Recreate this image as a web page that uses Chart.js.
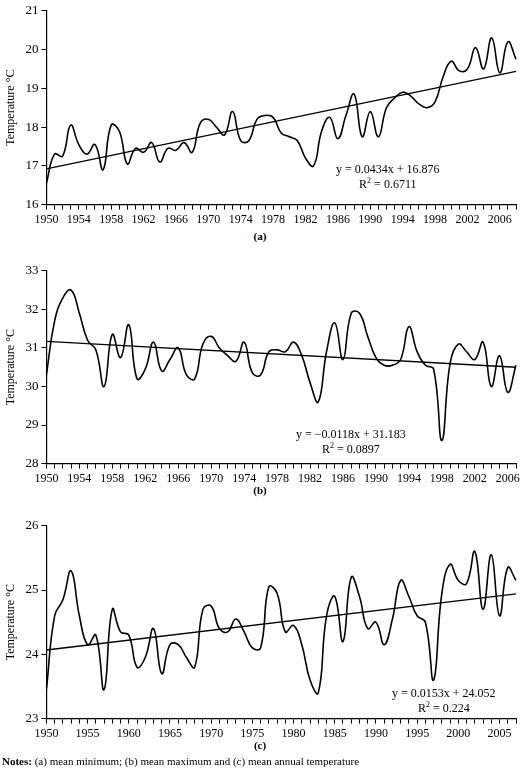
<!DOCTYPE html>
<html>
<head>
<meta charset="utf-8">
<script src="https://cdn.jsdelivr.net/npm/chart.js@4"></script>
<style>
  body { margin: 0; background: #fff; font-family: "Liberation Serif", serif; }
  .panel { position: absolute; left: 0; width: 520px; }
  .eq { position: absolute; font-size: 12px; text-align: center; line-height: 15px; color: #000; }
  .eq sup { font-size: 8px; line-height: 0; vertical-align: 5px; }
  .lab { position: absolute; width: 520px; text-align: center; font-weight: bold; font-size: 11px; }
  #notes { position: absolute; left: 2px; top: 755px; font-size: 11px; }
</style>
</head>
<body>
<div class="panel" style="top:0;height:230px"><canvas id="ca"></canvas></div>
<div class="panel" style="top:260px;height:229px"><canvas id="cb"></canvas></div>
<div class="panel" style="top:515px;height:229px"><canvas id="cc"></canvas></div>
<div class="eq" style="left:336px;top:162px">y = 0.0434x + 16.876<br>R<sup>2</sup> = 0.6711</div>
<div class="eq" style="left:296px;top:427px">y = &minus;0.0118x + 31.183<br>R<sup>2</sup> = 0.0897</div>
<div class="eq" style="left:392px;top:686px">y = 0.0153x + 24.052<br>R<sup>2</sup> = 0.224</div>
<div class="lab" style="top:230px">(a)</div>
<div class="lab" style="top:484px">(b)</div>
<div class="lab" style="top:739px">(c)</div>
<div id="notes"><b>Notes:</b> (a) mean minimum; (b) mean maximum and (c) mean annual temperature</div>
<script>
const yearsA = [];
for (let y = 1950; y <= 2008; y++) yearsA.push(String(y));
const yearsBC = yearsA.slice(0, 58);

const minTemp = [16.55, 17.3, 17.25, 18.05, 17.55, 17.3, 17.55, 16.9, 18.05, 17.9,
  17.05, 17.45, 17.35, 17.6, 17.1, 17.45, 17.4, 17.6, 17.35, 18.1,
  18.2, 18.0, 17.8, 18.4, 17.65, 17.65, 18.2, 18.3, 18.25, 17.85,
  17.75, 17.65, 17.2, 17.0, 17.9, 18.25, 17.7, 18.3, 18.85, 17.75,
  18.4, 17.75, 18.5, 18.75, 18.9, 18.8, 18.6, 18.5, 18.65, 19.3,
  19.7, 19.45, 19.5, 20.05, 19.5, 20.3, 19.4, 20.2, 19.75];
const maxTemp = [30.3, 31.7, 32.3, 32.5, 31.9, 31.2, 30.95, 30.0, 31.35, 30.75,
  31.6, 30.2, 30.45, 31.15, 30.4, 30.7, 31.0, 30.3, 30.2, 31.1,
  31.3, 31.0, 30.8, 30.65, 31.15, 30.35, 30.3, 30.9, 30.95, 30.9,
  31.15, 30.8, 30.1, 29.6, 30.9, 31.65, 30.7, 31.9, 31.9, 31.3,
  30.75, 30.55, 30.55, 30.7, 31.55, 30.9, 30.55, 30.45, 28.6, 30.6,
  31.1, 30.9, 30.7, 31.15, 30.0, 30.8, 29.85, 30.55];
const meanTemp = [23.45, 24.6, 24.85, 25.3, 24.6, 24.15, 24.3, 23.45, 24.7, 24.35,
  24.3, 23.8, 23.95, 24.4, 23.7, 24.15, 24.15, 23.95, 23.8, 24.7,
  24.75, 24.4, 24.35, 24.55, 24.35, 24.1, 24.1, 25.05, 24.95, 24.35,
  24.45, 24.15, 23.6, 23.4, 24.6, 24.9, 24.2, 25.2, 24.9, 24.4,
  24.5, 24.15, 24.55, 25.15, 24.9, 24.6, 24.5, 23.6, 24.95, 25.4,
  25.15, 25.1, 25.6, 24.7, 25.55, 24.6, 25.35, 25.15];

// trend line coefficients as printed on the chart (x = 1, 2, ...)
const trendA = [0.0434, 16.876];
const trendB = [-0.0118, 31.183];
const trendC = [0.0153, 24.052];

function makeChart(id, labels, values, trend, yMin, yMax, step) {
  const n = labels.length;
  const trendPts = [
    { x: labels[0], y: trend[0] * 1 + trend[1] },
    { x: labels[n - 1], y: trend[0] * n + trend[1] }
  ];
  new Chart(document.getElementById(id), {
    type: "line",
    data: {
      labels: labels,
      datasets: [
        { data: values, borderColor: "#000", borderWidth: 1.6, pointRadius: 0, tension: 0.45 },
        { data: trendPts, borderColor: "#000", borderWidth: 1.3, pointRadius: 0 }
      ]
    },
    options: {
      responsive: true,
      maintainAspectRatio: false,
      animation: false,
      layout: { padding: { top: 0, right: 4 } },
      plugins: { legend: { display: false }, tooltip: { enabled: false } },
      scales: {
        x: {
          offset: false,
          grid: { display: true, drawOnChartArea: false, color: "#000", lineWidth: 1, tickLength: 5 },
          border: { color: "#000", width: 1.2 },
          ticks: {
            autoSkip: false, maxRotation: 0, color: "#000",
            font: { family: "Liberation Serif", size: 12 },
            callback: (v, i) => ((i % step) === 0 ? labels[i] : "")
          }
        },
        y: {
          min: yMin, max: yMax,
          grid: { display: true, drawOnChartArea: false, color: "#000", tickLength: 5 },
          border: { color: "#000", width: 1.2 },
          ticks: { stepSize: 1, color: "#000", font: { family: "Liberation Serif", size: 13 } },
          title: { display: true, text: "Temperature °C", color: "#000", font: { family: "Liberation Serif", size: 12 } }
        }
      }
    }
  });
}

makeChart("ca", yearsA, minTemp, trendA, 16, 21, 4);
makeChart("cb", yearsBC, maxTemp, trendB, 28, 33, 4);
makeChart("cc", yearsBC, meanTemp, trendC, 23, 26, 5);
</script>
</body>
</html>
